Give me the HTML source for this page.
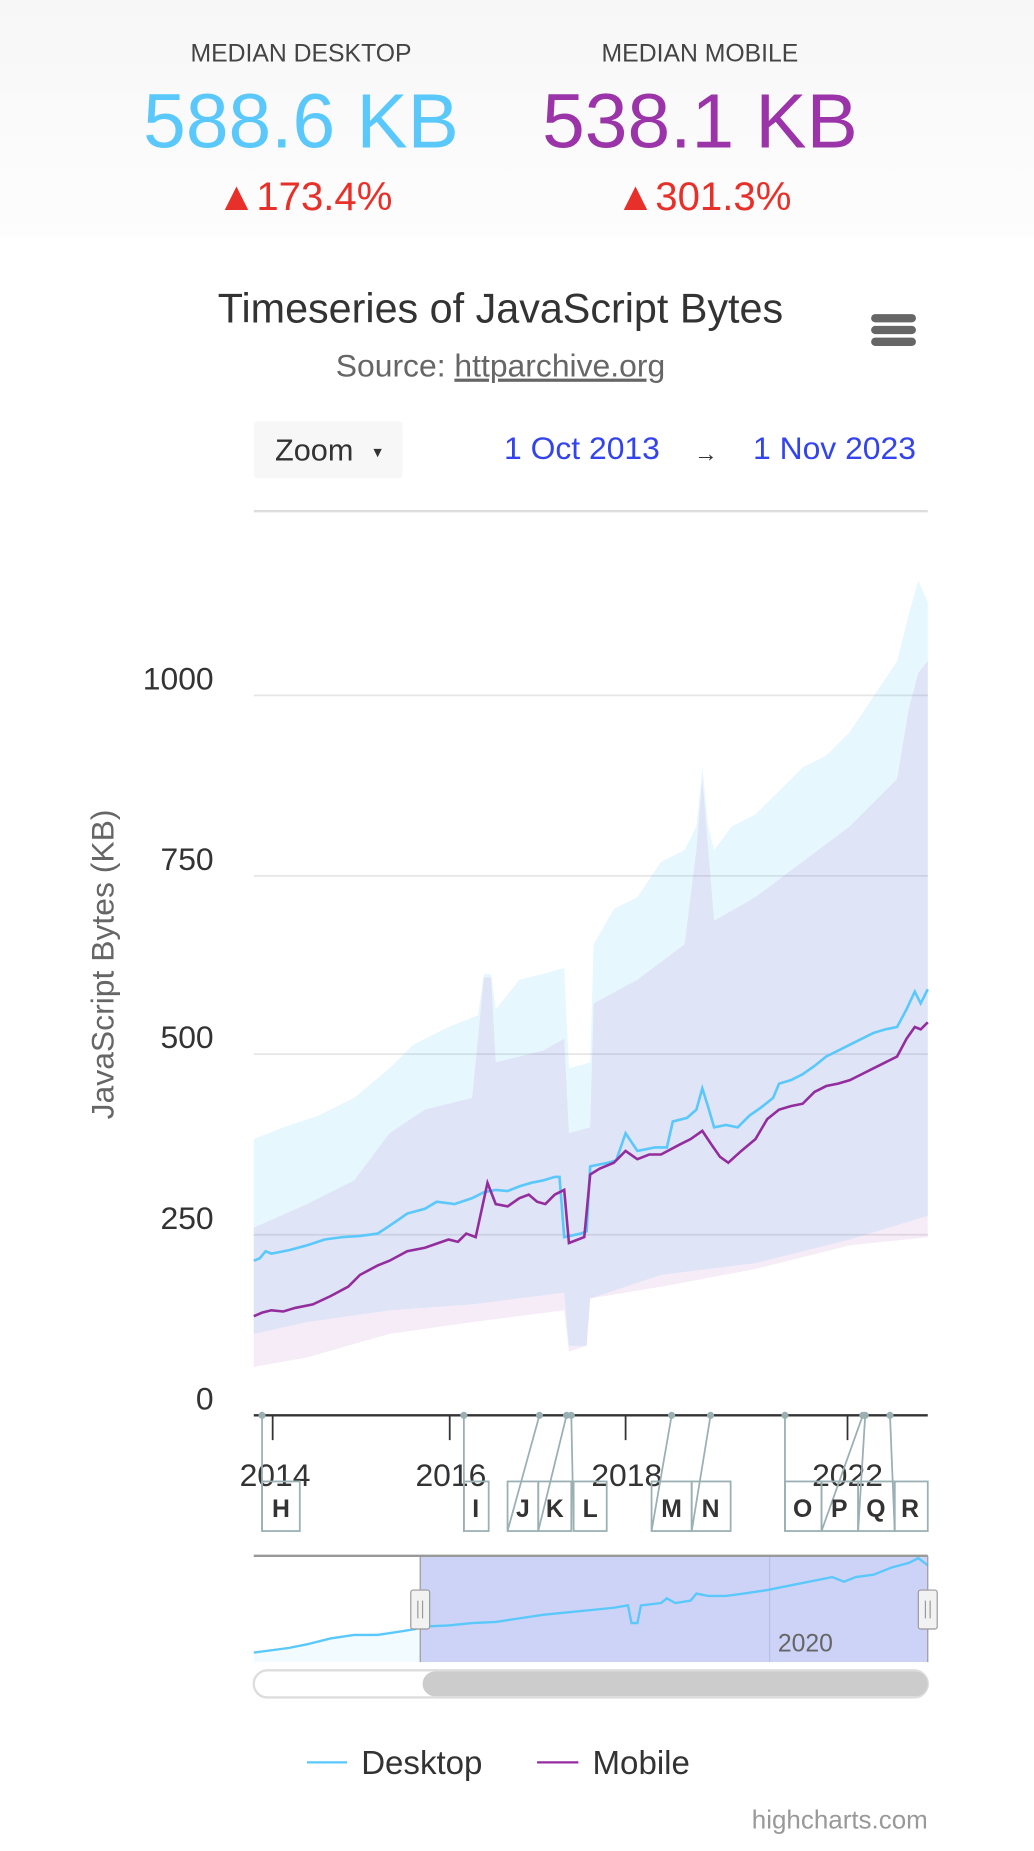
<!DOCTYPE html>
<html><head><meta charset="utf-8"><style>
html,body{margin:0;padding:0;background:#fff;}
svg{display:block;font-family:"Liberation Sans",sans-serif;}
</style></head><body>
<svg width="1034" height="1851" viewBox="0 0 876 1568" xmlns="http://www.w3.org/2000/svg">
<defs><linearGradient id="hg" x1="0" y1="0" x2="0" y2="1"><stop offset="0" stop-color="#f7f7f7"/><stop offset="1" stop-color="#fdfdfd"/></linearGradient></defs>
<rect x="0" y="0" width="876" height="200" fill="url(#hg)"/>
<g text-anchor="middle">
<text x="255" y="52" font-size="21" fill="#444">MEDIAN DESKTOP</text>
<text x="593" y="52" font-size="21" fill="#444">MEDIAN MOBILE</text>
<text x="255" y="125" font-size="65" fill="#5ac8fa">588.6 KB</text>
<text x="593" y="125" font-size="65" fill="#9a34a8">538.1 KB</text>
<text x="258" y="178" font-size="34" fill="#e8302a">▲173.4%</text>
<text x="596" y="178" font-size="34" fill="#e8302a">▲301.3%</text>
<text x="424" y="273" font-size="35" fill="#333">Timeseries of JavaScript Bytes</text>
<text x="424" y="319" font-size="27" fill="#666">Source: <tspan text-decoration="underline">httparchive.org</tspan></text>
</g>
<g fill="#666"><rect x="738" y="266" width="38" height="7" rx="3.5"/><rect x="738" y="276" width="38" height="7" rx="3.5"/><rect x="738" y="286" width="38" height="7" rx="3.5"/></g>
<rect x="215" y="357" width="126" height="48" rx="3" fill="#f7f7f7"/>
<text x="233" y="390" font-size="26" fill="#333">Zoom</text><text x="314" y="387" font-size="12" fill="#333">▼</text>
<g font-size="27" fill="#3344ee"><text x="427" y="389">1 Oct 2013</text><text x="776" y="389" text-anchor="end">1 Nov 2023</text></g>
<text x="598" y="391" font-size="20" fill="#333" text-anchor="middle">→</text>
<g stroke="#e6e6e6" stroke-width="1.5"><line x1="215" y1="433" x2="786" y2="433" stroke="#ddd" stroke-width="2"/><line x1="215" y1="589" x2="786" y2="589"/><line x1="215" y1="742" x2="786" y2="742"/><line x1="215" y1="893" x2="786" y2="893"/><line x1="215" y1="1046" x2="786" y2="1046"/></g>
<polygon fill="#5ac8fa" fill-opacity="0.15" points="215,965 240,955 270,945 300,930 330,905 350,885 380,870 405,860 410,825 416,825 420,855 440,830 460,825 478,820 482,905 500,900 503,800 520,770 540,760 560,730 580,720 590,700 595,650 600,700 605,720 620,700 640,690 660,670 680,650 700,640 720,620 740,590 760,560 770,520 778,492 786,510 786,1030 720,1050 640,1070 560,1080 500,1100 497,1140 482,1140 478,1095 400,1105 330,1110 260,1120 215,1130"/>
<polygon fill="#9c27b0" fill-opacity="0.09" points="215,1040 260,1020 300,1000 330,960 360,940 400,930 410,828 416,828 420,900 460,890 478,880 482,960 500,955 503,850 540,830 580,800 590,720 595,660 600,720 605,780 640,760 680,730 720,700 760,660 770,600 778,570 786,560 786,1048 720,1055 640,1075 560,1090 500,1100 497,1140 482,1145 478,1110 400,1120 330,1130 260,1150 215,1158"/>
<polyline fill="none" stroke="#5ac8fa" stroke-width="2.2" points="215,1068 220,1066 225,1060 230,1062 245,1059 260,1055 275,1050 290,1048 305,1047 320,1045 335,1035 345,1028 360,1024 370,1018 385,1020 400,1015 410,1010 420,1008 430,1009 440,1005 450,1002 460,1000 470,997 474,997 478,1048 492,1045 497,1043 500,988 515,985 522,983 530,960 540,975 555,972 565,972 570,950 582,947 590,940 595,922 600,938 605,955 615,953 625,955 635,945 645,938 655,930 660,918 670,915 680,910 690,903 700,895 710,890 720,885 730,880 740,875 750,872 760,870 768,855 775,840 780,850 786,838"/>
<polyline fill="none" stroke="#932d9e" stroke-width="2.2" points="215,1115 222,1112 230,1110 240,1111 250,1108 265,1105 280,1098 295,1090 305,1080 320,1072 330,1068 345,1060 360,1057 380,1050 388,1052 395,1045 403,1048 413,1002 420,1020 430,1022 440,1015 448,1012 455,1018 462,1020 470,1012 478,1008 482,1053 495,1048 500,995 508,990 520,985 530,975 540,982 550,978 560,978 575,970 585,965 595,958 603,970 610,980 617,985 628,975 640,965 650,948 660,940 670,937 680,935 690,925 700,920 710,918 720,915 730,910 740,905 750,900 760,895 768,880 775,870 780,872 786,866"/>
<g font-size="27" fill="#333" text-anchor="end"><text x="181" y="584">1000</text><text x="181" y="737">750</text><text x="181" y="888">500</text><text x="181" y="1041">250</text><text x="181" y="1194">0</text></g>
<text transform="translate(96,817) rotate(-90)" font-size="27" fill="#666" text-anchor="middle">JavaScript Bytes (KB)</text>
<line x1="215" y1="1199" x2="786" y2="1199" stroke="#333" stroke-width="2"/>
<g stroke="#333" stroke-width="1.5"><line x1="231" y1="1199" x2="231" y2="1220"/><line x1="381" y1="1199" x2="381" y2="1220"/><line x1="530" y1="1199" x2="530" y2="1220"/><line x1="718" y1="1199" x2="718" y2="1220"/></g>
<g font-size="27" fill="#333" text-anchor="middle"><text x="233" y="1259">2014</text><text x="382" y="1259">2016</text><text x="531" y="1259">2018</text><text x="718" y="1259">2022</text></g>
<g stroke="#9ab0b3" stroke-width="1.5" fill="none">
<path d="M222,1199 L222,1297 M393,1199 L393,1297 M457,1199 L430,1297 M480,1199 L456,1297 M484,1199 L486,1297 M569,1199 L552,1297 M602,1199 L586,1297 M665,1199 L665,1297 M731,1199 L696,1297 M733,1199 L727,1297 M754,1199 L758,1297"/>
<rect x="222" y="1255" width="32" height="42"/><rect x="393" y="1255" width="21" height="42"/><rect x="430" y="1255" width="26" height="42"/><rect x="456" y="1255" width="28" height="42"/><rect x="486" y="1255" width="28" height="42"/><rect x="552" y="1255" width="34" height="42"/><rect x="586" y="1255" width="33" height="42"/><rect x="665" y="1255" width="31" height="42"/><rect x="696" y="1255" width="31" height="42"/><rect x="727" y="1255" width="31" height="42"/><rect x="758" y="1255" width="28" height="42"/>
</g>
<g fill="#9ab0b3"><circle cx="222" cy="1199" r="3"/><circle cx="393" cy="1199" r="3"/><circle cx="457" cy="1199" r="3"/><circle cx="480" cy="1199" r="3"/><circle cx="484" cy="1199" r="3"/><circle cx="569" cy="1199" r="3"/><circle cx="602" cy="1199" r="3"/><circle cx="665" cy="1199" r="3"/><circle cx="731" cy="1199" r="3"/><circle cx="733" cy="1199" r="3"/><circle cx="754" cy="1199" r="3"/></g>
<g font-size="21" font-weight="bold" fill="#333" text-anchor="middle"><text x="238" y="1285">H</text><text x="403" y="1285">I</text><text x="443" y="1285">J</text><text x="470" y="1285">K</text><text x="500" y="1285">L</text><text x="569" y="1285">M</text><text x="602" y="1285">N</text><text x="680" y="1285">O</text><text x="711" y="1285">P</text><text x="742" y="1285">Q</text><text x="771" y="1285">R</text></g>
<polygon fill="#5ac8fa" fill-opacity="0.08" points="215,1400 260,1393 300,1385 356,1378 356,1408 215,1408"/>
<rect x="356" y="1318" width="430" height="90" fill="#cdd3f7"/>
<line x1="652" y1="1318" x2="652" y2="1408" stroke="#b8bfe6" stroke-width="1"/>
<text x="659" y="1399" font-size="21" fill="#666">2020</text>
<polyline fill="none" stroke="#5ac8fa" stroke-width="2" points="215,1400 230,1398 245,1396 260,1393 280,1388 300,1385 320,1385 340,1382 352,1380 356,1378 380,1377 400,1375 420,1374 440,1371 460,1368 480,1366 500,1364 520,1362 532,1360 535,1375 540,1375 543,1360 560,1358 565,1354 572,1358 585,1356 590,1350 600,1352 615,1352 630,1350 650,1347 670,1343 690,1339 705,1336 715,1340 725,1336 740,1334 755,1328 770,1324 778,1320 786,1326"/>
<line x1="215" y1="1318" x2="786" y2="1318" stroke="#999" stroke-width="2"/>
<line x1="356" y1="1318" x2="356" y2="1408" stroke="#999" stroke-width="1"/><line x1="786" y1="1318" x2="786" y2="1408" stroke="#999" stroke-width="1"/>
<g fill="#f2f2f2" stroke="#999" stroke-width="1"><rect x="348" y="1347" width="16" height="33" rx="2"/><rect x="778" y="1347" width="16" height="33" rx="2"/></g>
<g stroke="#999" stroke-width="1"><path d="M354,1356v15M358,1356v15M784,1356v15M788,1356v15"/></g>
<rect x="215" y="1415" width="571" height="23" rx="11.5" fill="#fff" stroke="#ddd" stroke-width="2"/>
<rect x="358" y="1416" width="428" height="21" rx="10.5" fill="#cccccc"/>
<line x1="260" y1="1493" x2="294" y2="1493" stroke="#5ac8fa" stroke-width="2"/>
<text x="306" y="1503" font-size="28" fill="#333">Desktop</text>
<line x1="455" y1="1493" x2="490" y2="1493" stroke="#932d9e" stroke-width="2"/>
<text x="502" y="1503" font-size="28" fill="#333">Mobile</text>
<text x="786" y="1549" font-size="22" fill="#999" text-anchor="end">highcharts.com</text>
</svg>
</body></html>
